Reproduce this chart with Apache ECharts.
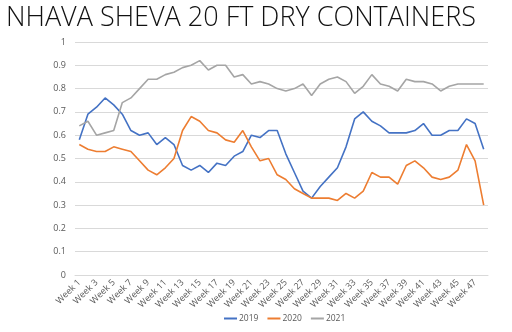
<!DOCTYPE html>
<html>
<head>
<meta charset="utf-8">
<script src="https://cdn.jsdelivr.net/npm/echarts@6/dist/echarts.min.js"></script>
<style>
  html, body { margin: 0; padding: 0; background: #fff; }
  #chart { width: 512px; height: 332px; }
</style>
</head>
<body>
<div id="chart"></div>
<script>
// Weekly index values for 20 ft dry containers, Nhava Sheva
const weeks = Array.from({ length: 48 }, (_, i) => 'Week ' + (i + 1));

const values2019 = [
  0.58, 0.69, 0.72, 0.76, 0.73, 0.69, 0.62, 0.60, 0.61, 0.56,
  0.59, 0.56, 0.47, 0.45, 0.47, 0.44, 0.48, 0.47, 0.51, 0.53,
  0.60, 0.59, 0.62, 0.62, 0.52, 0.44, 0.36, 0.33, 0.38, 0.42,
  0.46, 0.55, 0.67, 0.70, 0.66, 0.64, 0.61, 0.61, 0.61, 0.62,
  0.65, 0.60, 0.60, 0.62, 0.62, 0.67, 0.65, 0.54
];

const values2020 = [
  0.56, 0.54, 0.53, 0.53, 0.55, 0.54, 0.53, 0.49, 0.45, 0.43,
  0.46, 0.50, 0.62, 0.68, 0.66, 0.62, 0.61, 0.58, 0.57, 0.62,
  0.55, 0.49, 0.50, 0.43, 0.41, 0.37, 0.35, 0.33, 0.33, 0.33,
  0.32, 0.35, 0.33, 0.36, 0.44, 0.42, 0.42, 0.39, 0.47, 0.49,
  0.46, 0.42, 0.41, 0.42, 0.45, 0.56, 0.49, 0.30
];

const values2021 = [
  0.64, 0.66, 0.60, 0.61, 0.62, 0.74, 0.76, 0.80, 0.84, 0.84,
  0.86, 0.87, 0.89, 0.90, 0.92, 0.88, 0.90, 0.90, 0.85, 0.86,
  0.82, 0.83, 0.82, 0.80, 0.79, 0.80, 0.82, 0.77, 0.82, 0.84,
  0.85, 0.83, 0.78, 0.81, 0.86, 0.82, 0.81, 0.79, 0.84, 0.83,
  0.83, 0.82, 0.79, 0.81, 0.82, 0.82, 0.82, 0.82
];

const seriesNames = ['2019', '2020', '2021'];
const seriesColors = ['#4472C4', '#ED7D31', '#A5A5A5'];
const seriesValues = [values2019, values2020, values2021];

const chart = echarts.init(document.getElementById('chart'), null, { renderer: 'canvas' });

const axisText = { color: '#595959', fontSize: 9, fontFamily: 'Open Sans' };

chart.setOption({
  animation: false,
  title: {
    text: 'NHAVA SHEVA 20 FT DRY CONTAINERS',
    left: 1,
    top: 0,
    textStyle: {
      fontFamily: 'Open Sans',
      fontWeight: 300,
      fontSize: 27,
      color: '#111'
    }
  },
  legend: {
    bottom: 4,
    left: 219,
    data: seriesNames,
    icon: 'rect',
    itemWidth: 13,
    itemHeight: 2,
    itemGap: 9,
    textStyle: { color: '#595959', fontSize: 8.5, fontFamily: 'Open Sans', padding: [0, 0, 0, -3] }
  },
  grid: { left: 75, right: 24, top: 42, bottom: 57, containLabel: false },
  xAxis: {
    type: 'category',
    data: weeks,
    boundaryGap: true,
    axisLine: { show: true, lineStyle: { color: '#d9d9d9', width: 1 } },
    axisTick: { show: false },
    axisLabel: Object.assign({ interval: 1, rotate: 45, margin: 6 }, axisText)
  },
  yAxis: {
    type: 'value',
    min: 0,
    max: 1,
    interval: 0.1,
    axisLine: { show: false },
    axisTick: { show: false },
    splitLine: { lineStyle: { color: '#d9d9d9', width: 1 } },
    axisLabel: Object.assign({ margin: 9, formatter: v => String(Math.round(v * 10) / 10) }, axisText)
  },
  series: seriesNames.map((name, i) => ({
    name,
    type: 'line',
    data: seriesValues[i],
    symbol: 'none',
    smooth: false,
    lineStyle: { color: seriesColors[i], width: 1.6 },
    itemStyle: { color: seriesColors[i] }
  }))
});
</script>
</body>
</html>
